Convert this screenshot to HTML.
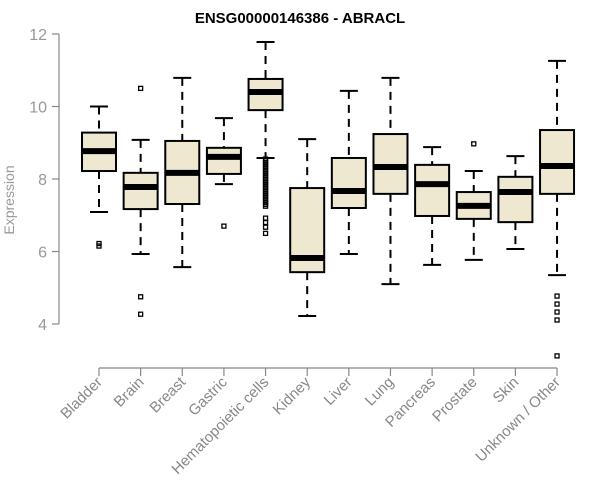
<!DOCTYPE html>
<html><head><meta charset="utf-8">
<style>
html,body{margin:0;padding:0;background:#fff;}
svg{display:block;font-family:"Liberation Sans",Arial,sans-serif;}
</style></head>
<body>
<svg id="chart" width="600" height="500" xmlns="http://www.w3.org/2000/svg">
<text x="300" y="23" text-anchor="middle" font-size="15" font-weight="bold" fill="#000">ENSG00000146386 - ABRACL</text>
<text transform="translate(14,200) rotate(-90)" text-anchor="middle" font-size="14" fill="#999">Expression</text>
<g id="axes"></g>
<g id="boxes"></g>
</svg>
<script>
const categories = ["Bladder","Brain","Breast","Gastric","Hematopoietic cells","Kidney","Liver","Lung","Pancreas","Prostate","Skin","Unknown / Other"];
const whiskerLow = [7.09,5.93,5.57,7.86,8.58,4.22,5.93,5.10,5.63,5.77,6.07,5.35];
const q1Values   = [8.22,7.17,7.31,8.14,9.90,5.43,7.20,7.59,6.98,6.90,6.81,7.59];
const medians    = [8.77,7.78,8.17,8.61,10.40,5.82,7.67,8.33,7.86,7.26,7.64,8.36];
const q3Values   = [9.28,8.17,9.05,8.86,10.76,7.75,8.58,9.24,8.39,7.64,8.06,9.35];
const whiskerHigh= [10.0,9.08,10.79,9.68,11.78,9.10,10.43,10.79,8.88,8.22,8.63,11.26];
const outliers = [
  [6.22,6.15],
  [10.5,4.75,4.27],
  [],
  [6.70],
  [8.55,8.5,8.45,8.4,8.35,8.3,8.25,8.2,8.15,8.1,8.05,8.0,7.95,7.9,7.85,7.8,7.75,7.7,7.65,7.6,7.55,7.5,7.45,7.4,7.35,7.3,7.25,6.92,6.8,6.67,6.5],
  [],[],[],[],
  [8.97],
  [],
  [4.77,4.55,4.33,4.11,3.12]
];
const yTicks = [4,6,8,10,12];

const NS="http://www.w3.org/2000/svg";
function y(v){return 34+(12-v)*36.25;}
function x(i){return 99+i*41.64;}
function mk(tag,attrs,parent){const e=document.createElementNS(NS,tag);for(const k in attrs)e.setAttribute(k,attrs[k]);parent.appendChild(e);return e;}
const axes=document.getElementById('axes'), boxes=document.getElementById('boxes');

let yl=mk('line',{x1:59,x2:59,y1:y(12),y2:y(4),stroke:'#888','stroke-width':1.2},axes);


yTicks.forEach(t=>{
  let tk=mk('line',{x1:52,x2:59,y1:y(t),y2:y(t),stroke:'#888','stroke-width':1.2},axes);
  
  
  let tx=mk('text',{x:47,y:y(t)+6,'text-anchor':'end','font-size':16,fill:'#999'},axes);
  tx.textContent=t;
  
  
});
let xl=mk('line',{x1:x(0),x2:x(categories.length-1),y1:368,y2:368,stroke:'#888','stroke-width':1.2},axes);


categories.forEach((c,i)=>{
  let tk=mk('line',{x1:x(i),x2:x(i),y1:368,y2:376,stroke:'#888','stroke-width':1.2},axes);
  
  
  let tx=mk('text',{transform:`translate(${x(i)+4},${383}) rotate(-45)`,'text-anchor':'end','font-size':15,fill:'#888'},axes);
  tx.textContent=c;
  
  
});
categories.forEach((c,i)=>{
  const cx=x(i), hw=17;
  const g=mk('g',{},boxes);
  
  
  mk('line',{x1:cx,x2:cx,y1:y(whiskerHigh[i]),y2:y(q3Values[i]),stroke:'#000','stroke-width':2,'stroke-dasharray':'8,6'},g);
  mk('line',{x1:cx,x2:cx,y1:y(q1Values[i]),y2:y(whiskerLow[i]),stroke:'#000','stroke-width':2,'stroke-dasharray':'8,6'},g);
  mk('line',{x1:cx-9,x2:cx+9,y1:y(whiskerHigh[i]),y2:y(whiskerHigh[i]),stroke:'#000','stroke-width':2},g);
  mk('line',{x1:cx-9,x2:cx+9,y1:y(whiskerLow[i]),y2:y(whiskerLow[i]),stroke:'#000','stroke-width':2},g);
  mk('rect',{x:cx-hw,y:y(q3Values[i]),width:hw*2,height:y(q1Values[i])-y(q3Values[i]),fill:'#EEE8D0',stroke:'#000','stroke-width':2},g);
  mk('line',{x1:cx-hw,x2:cx+hw,y1:y(medians[i]),y2:y(medians[i]),stroke:'#000','stroke-width':6},g);
  outliers[i].forEach(v=>{
    mk('rect',{x:cx-2,y:y(v)-2,width:4,height:4,fill:'none',stroke:'#000','stroke-width':1.3},g);
  });
});
</script>
</body></html>
